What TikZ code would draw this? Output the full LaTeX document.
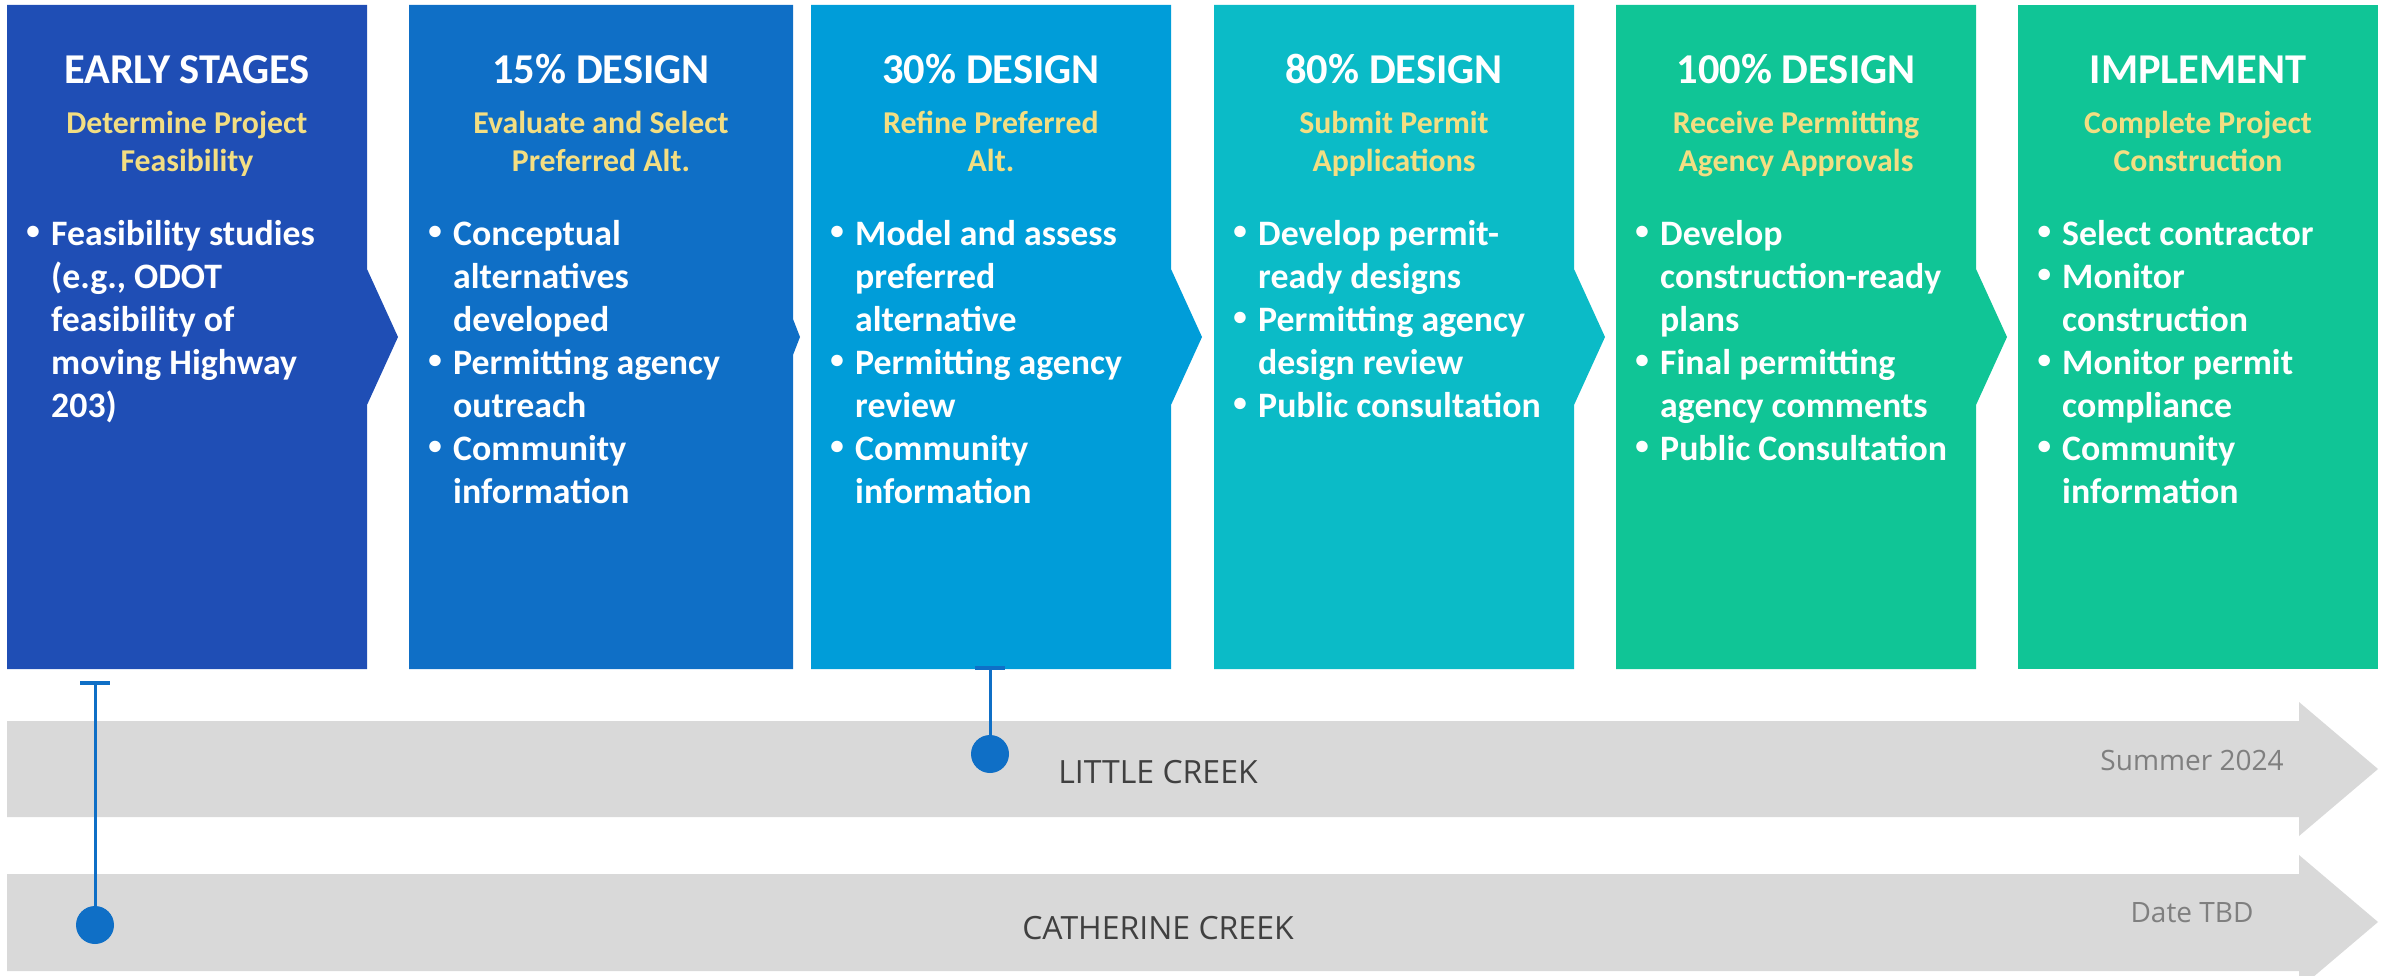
\documentclass[tikz,border=0pt]{standalone}
\usepackage{fontspec}
\setmainfont{Carlito}
\newfontfamily\creekfont{Open Sans}
\definecolor{early}{HTML}{1F4EB5}
\definecolor{fifteen}{HTML}{0F6FC6}
\definecolor{thirty}{HTML}{009DD9}
\definecolor{eighty}{HTML}{0BBBC7}
\definecolor{hundred}{HTML}{10C596}
\definecolor{subyellow}{HTML}{F3DE82}
\definecolor{bargray}{HTML}{D9D9D9}
\definecolor{creekgray}{HTML}{404040}
\definecolor{dategray}{HTML}{7F7F7F}
\tikzset{ ttl/.style = { text         = white
                       , font         = \bfseries\fontsize{42.5}{50}\selectfont
                       , anchor       = base
                       , inner sep    = 0pt
                       },
          sub/.style = { text         = subyellow
                       , font         = \bfseries\fontsize{31.8}{38}\selectfont
                       , anchor       = base
                       , inner sep    = 0pt
                       },
          blt/.style = { text         = white
                       , font         = \bfseries\fontsize{35.8}{43}\selectfont
                       , anchor       = base west
                       , inner sep    = 0pt
                       },
          tbar/.style = { fill = bargray },
          dot/.style = { circle
                       , fill         = fifteen
                       , inner sep    = 0pt
                       , minimum size = 38pt
                       },
          tcap/.style = { rectangle
                        , fill         = fifteen
                        , inner sep    = 0pt
                        , minimum width  = 30pt
                        , minimum height = 3.5pt
                        },
          marker/.style = { draw = fifteen, line width = 3pt },
          creek/.style = { text       = creekgray
                         , font       = \creekfont\fontsize{32}{38}\selectfont
                         , anchor     = base
                         , inner sep  = 0pt
                         },
          when/.style = { text        = dategray
                        , font        = \creekfont\fontsize{28}{34}\selectfont
                        , anchor      = base
                        , inner sep   = 0pt
                        }
        }
\newcommand{\stagedot}{\makebox[36pt]{\raisebox{5.5pt}{\fontsize{27}{27}\selectfont\textbullet}}}

\begin{document}
\begin{tikzpicture}[x=1pt,y=-1pt]
    \useasboundingbox (0,0) rectangle (2387,976);
    \clip (0,0) rectangle (2387,976);

    % stage boxes
    \fill[early]   (7,5) -- (367,5) -- (367,269) -- (398,337) -- (367,405) -- (367,669) -- (7,669) -- cycle;
    \fill[fifteen] (409,5) -- (793,5) -- (793,319) -- (800,337) -- (793,355) -- (793,669) -- (409,669) -- cycle;
    \fill[thirty]  (811,5) -- (1171,5) -- (1171,269) -- (1202,337) -- (1171,405) -- (1171,669) -- (811,669) -- cycle;
    \fill[eighty]  (1214,5) -- (1574,5) -- (1574,269) -- (1605,337) -- (1574,405) -- (1574,669) -- (1214,669) -- cycle;
    \fill[hundred] (1616,5) -- (1976,5) -- (1976,269) -- (2007,337) -- (1976,405) -- (1976,669) -- (1616,669) -- cycle;
    \fill[hundred] (2018,5) -- (2378,5) -- (2378,669) -- (2018,669) -- cycle;

    % titles
    \node[ttl] (t1) at (187,83.5)  {EARLY STAGES};
    \node[ttl] (t2) at (601,83.5)  {15\% DESIGN};
    \node[ttl] (t3) at (991,83.5)  {30\% DESIGN};
    \node[ttl] (t4) at (1394,83.5) {80\% DESIGN};
    \node[ttl] (t5) at (1796,83.5) {100\% DESIGN};
    \node[ttl] (t6) at (2198,83.5) {IMPLEMENT};

    % aims
    \node[sub] (s1) at (187,134)  {\begin{tabular}[t]{@{}c@{}}Determine Project\\Feasibility\end{tabular}};
    \node[sub] (s2) at (601,134)  {\begin{tabular}[t]{@{}c@{}}Evaluate and Select\\Preferred Alt.\end{tabular}};
    \node[sub] (s3) at (991,134)  {\begin{tabular}[t]{@{}c@{}}Refine Preferred\\Alt.\end{tabular}};
    \node[sub] (s4) at (1394,134) {\begin{tabular}[t]{@{}c@{}}Submit Permit\\Applications\end{tabular}};
    \node[sub] (s5) at (1796,134) {\begin{tabular}[t]{@{}c@{}}Receive Permitting\\Agency Approvals\end{tabular}};
    \node[sub] (s6) at (2198,134) {\begin{tabular}[t]{@{}c@{}}Complete Project\\Construction\end{tabular}};

    % tasks
    \node[blt] (b1) at (15,245.5) {\begin{tabular}[t]{@{}l@{}l@{}}
        \stagedot & Feasibility studies\\ & (e.g., ODOT\\ & feasibility of\\ & moving Highway\\ & 203)
    \end{tabular}};
    \node[blt] (b2) at (417,245.5) {\begin{tabular}[t]{@{}l@{}l@{}}
        \stagedot & Conceptual\\ & alternatives\\ & developed\\
        \stagedot & Permitting agency\\ & outreach\\
        \stagedot & Community\\ & information
    \end{tabular}};
    \node[blt] (b3) at (819,245.5) {\begin{tabular}[t]{@{}l@{}l@{}}
        \stagedot & Model and assess\\ & preferred\\ & alternative\\
        \stagedot & Permitting agency\\ & review\\
        \stagedot & Community\\ & information
    \end{tabular}};
    \node[blt] (b4) at (1222,245.5) {\begin{tabular}[t]{@{}l@{}l@{}}
        \stagedot & Develop permit-\\ & ready designs\\
        \stagedot & Permitting agency\\ & design review\\
        \stagedot & Public consultation
    \end{tabular}};
    \node[blt] (b5) at (1624,245.5) {\begin{tabular}[t]{@{}l@{}l@{}}
        \stagedot & Develop\\ & construction-ready\\ & plans\\
        \stagedot & Final permitting\\ & agency comments\\
        \stagedot & Public Consultation
    \end{tabular}};
    \node[blt] (b6) at (2026,245.5) {\begin{tabular}[t]{@{}l@{}l@{}}
        \stagedot & Select contractor\\
        \stagedot & Monitor\\ & construction\\
        \stagedot & Monitor permit\\ & compliance\\
        \stagedot & Community\\ & information
    \end{tabular}};

    % timelines
    \fill[tbar] (7,721) -- (2299,721) -- (2299,702) -- (2378,769) -- (2299,836) -- (2299,817) -- (7,817) -- cycle;
    \fill[tbar] (7,874) -- (2299,874) -- (2299,855) -- (2378,922) -- (2299,989) -- (2299,971) -- (7,971) -- cycle;

    \node[creek] (lc) at (1158,783) {LITTLE CREEK};
    \node[creek] (cc) at (1158,939) {CATHERINE CREEK};
    \node[when]  (lcd) at (2192,770) {Summer 2024};
    \node[when]  (ccd) at (2192,922) {Date TBD};

    % markers
    \node[tcap] (lccap) at (990,668) {};
    \node[dot] (lcdot) at (990,754) {};
    \draw[marker] (lccap) -- (lcdot);
    \node[tcap] (cccap) at (95,683) {};
    \node[dot] (ccdot) at (95,925) {};
    \draw[marker] (cccap) -- (ccdot);
\end{tikzpicture}
\end{document}
